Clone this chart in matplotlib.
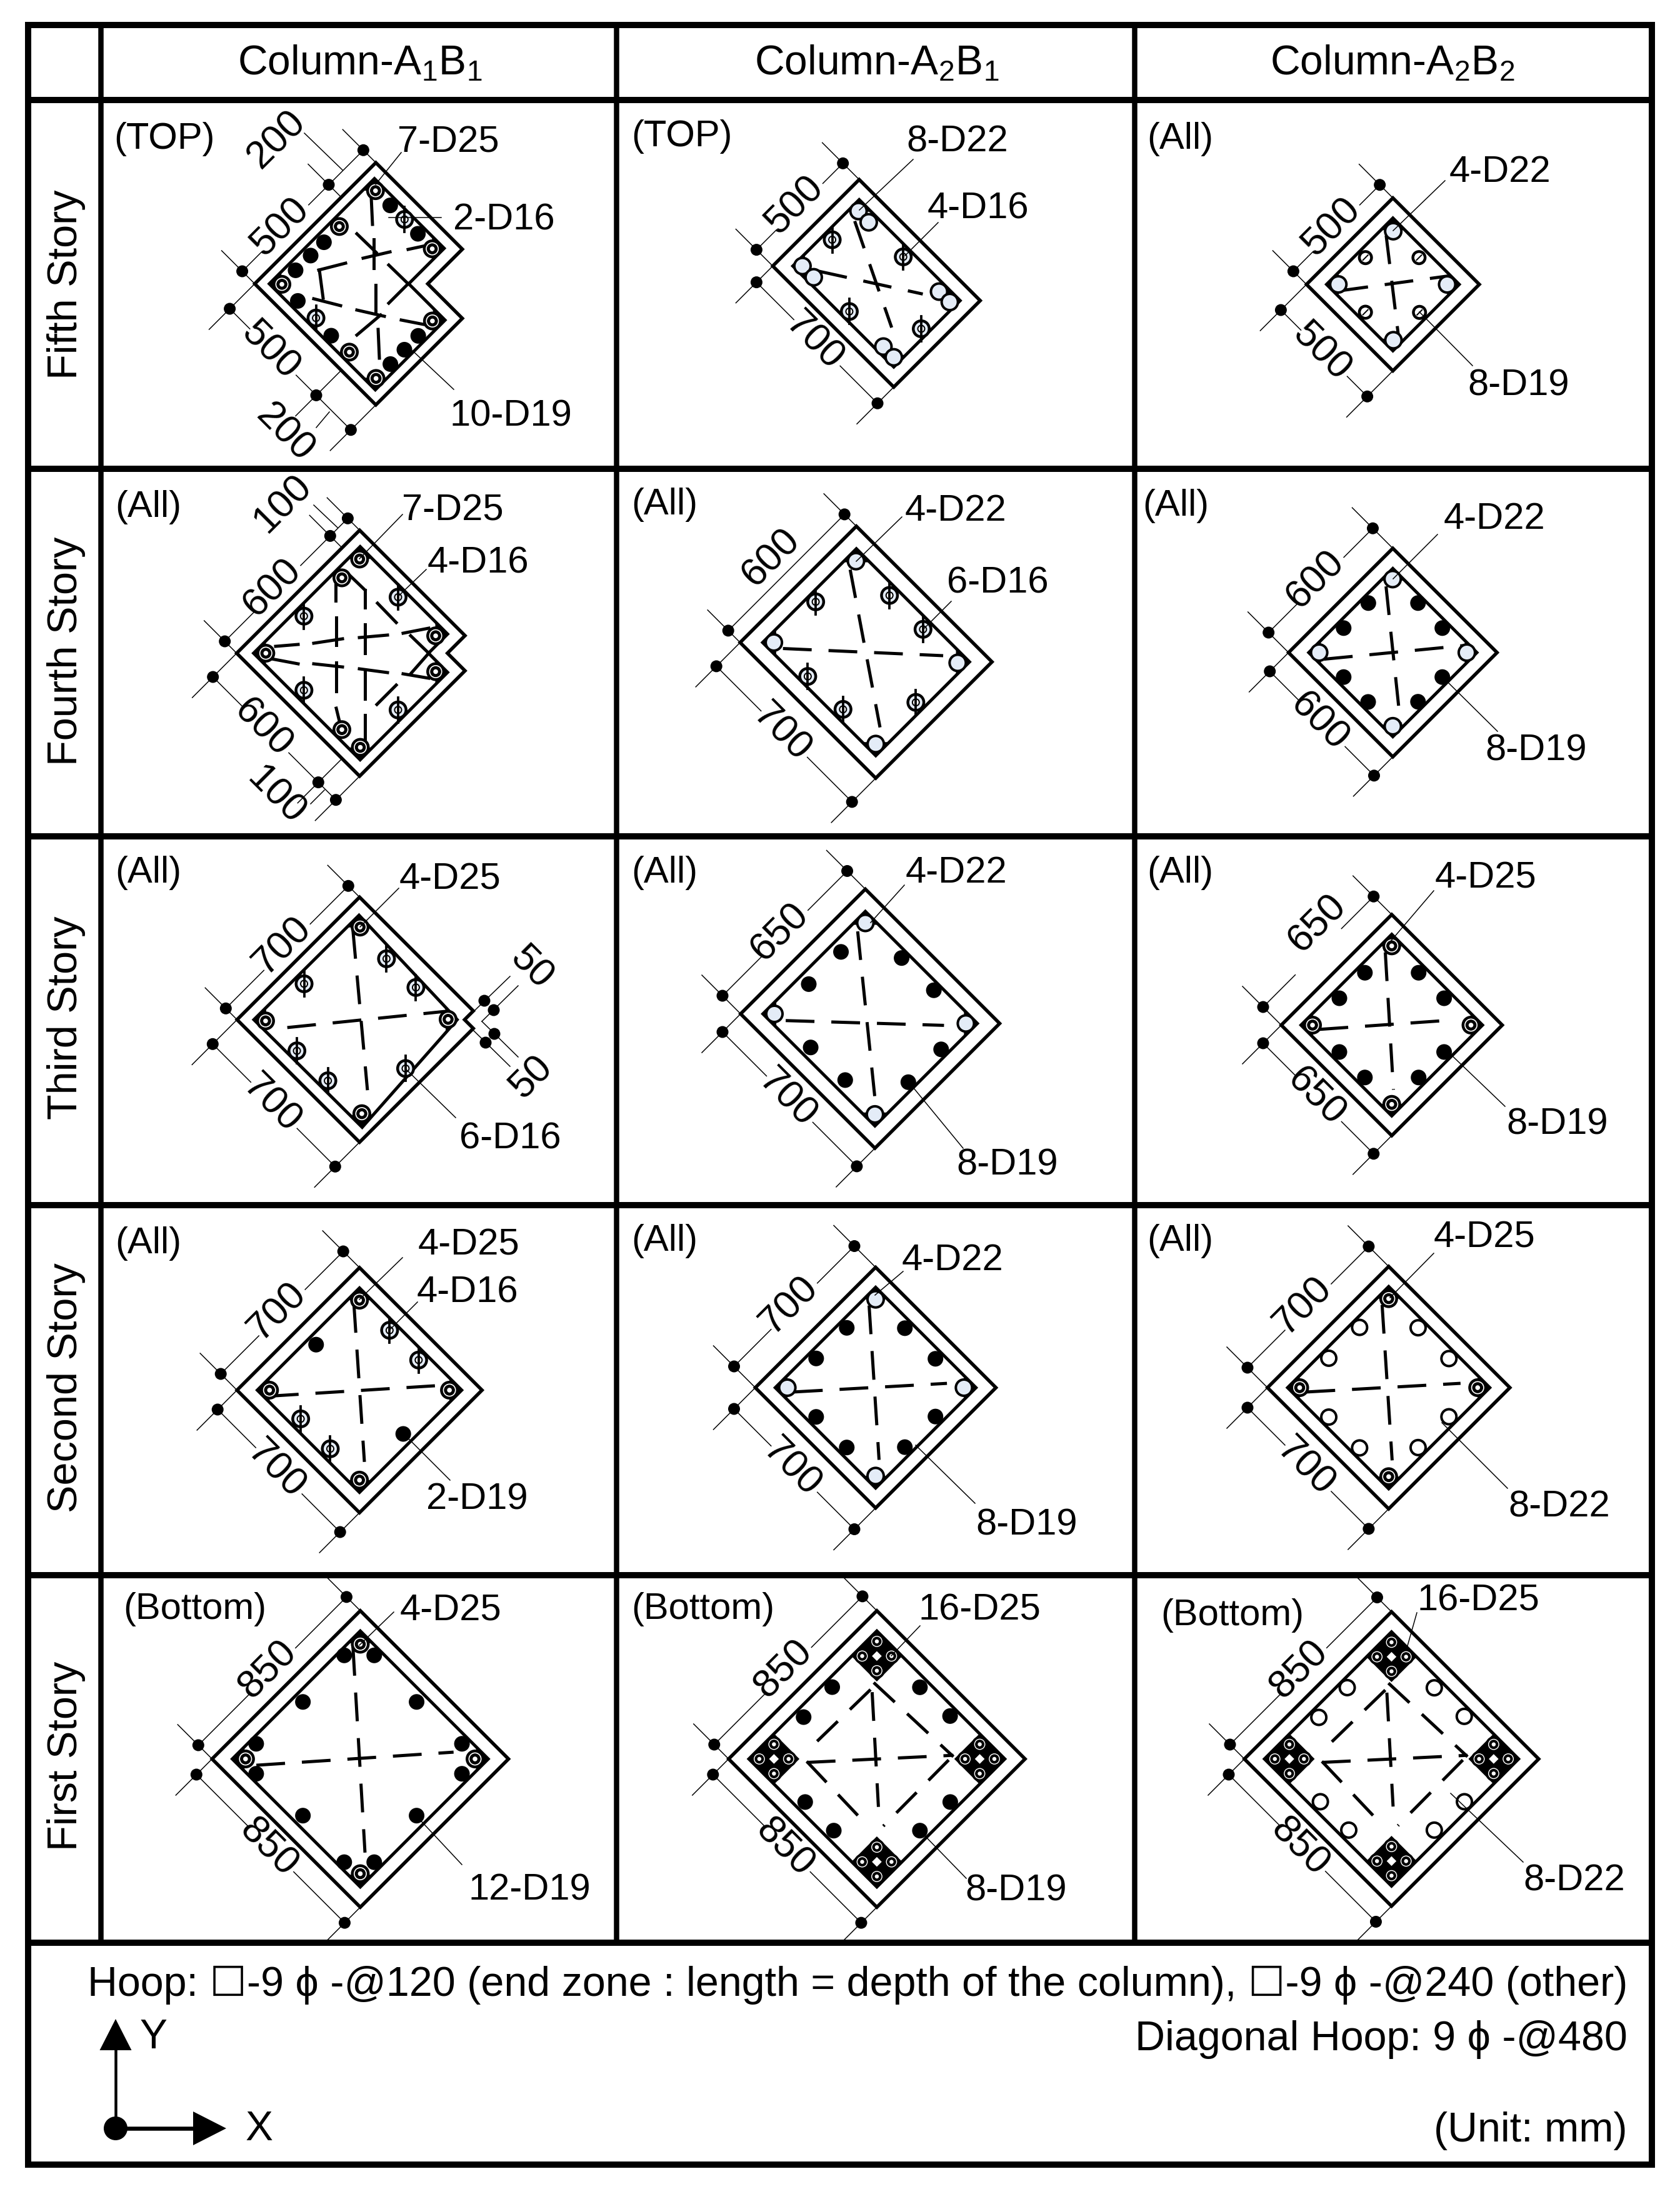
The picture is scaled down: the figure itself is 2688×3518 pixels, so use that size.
import matplotlib
matplotlib.use("Agg")
import matplotlib.pyplot as plt
from matplotlib.patches import Circle, Polygon

plt.rcParams["font.family"] = ["Liberation Sans", "DejaVu Sans"]
plt.rcParams["mathtext.fontset"] = "custom"
plt.rcParams["mathtext.rm"] = "Liberation Sans"
plt.rcParams["lines.scale_dashes"] = False

PT = 0.72  # one picture pixel in points at dpi 100
LIGHT = "#e4ecf7"
LABEL_SIZE = 43
DIM_SIZE = 45
DROP = 7  # va="center" sits a little high for these labels

# table frame
FRAME_X = [44.6, 2642.6]
FRAME_Y = [40, 3463]
COLUMN_LINES = [161.4, 986, 1815]
ROW_LINES = [160, 750, 1338, 1928, 2520, 3108]

COLUMN_LABELS = ["Column-A$_{\\mathrm{1}}$B$_{\\mathrm{1}}$",
                 "Column-A$_{\\mathrm{2}}$B$_{\\mathrm{1}}$",
                 "Column-A$_{\\mathrm{2}}$B$_{\\mathrm{2}}$"]
COLUMN_LABEL_X = [573, 1400, 2225]
STORY_LABELS = ["Fifth Story", "Fourth Story", "Third Story", "Second Story", "First Story"]
STORY_LABEL_Y = [455, 1042, 1628, 2220, 2809]

ZONE_TEXT = [["(TOP)", "(TOP)", "(All)"],
             ["(All)", "(All)", "(All)"],
             ["(All)", "(All)", "(All)"],
             ["(All)", "(All)", "(All)"],
             ["(Bottom)", "(Bottom)", "(Bottom)"]]
ZONE_XY = [[(182, 215), (1010, 211), (1835, 215)],
           [(184, 804), (1010, 800), (1828, 802)],
           [(184, 1389), (1010, 1389), (1835, 1389)],
           [(184, 1982), (1010, 1978), (1835, 1978)],
           [(197, 2567), (1010, 2567), (1857, 2578)]]

# section sizes in mm, as dimensioned
SIDES = [[(700, 700), (500, 700), (500, 500)],
         [(700, 700), (600, 700), (600, 600)],
         [(700, 700), (650, 700), (650, 650)],
         [(700, 700), (700, 700), (700, 700)],
         [(850, 850), (850, 850), (850, 850)]]
# the drawings are not all at one scale: pixels per mm along each axis
SCALES = [[0.2768, 0.2766, 0.2765],
          [0.281, 0.31, 0.278],
          [0.28, 0.307, 0.272],
          [0.28, 0.275, 0.277],
          [0.279, 0.279, 0.277]]
LEFT_CORNERS = [[(407.6, 454), (1236.4, 425.6), (2090.4, 455)],
                [(378.7, 1045), (1184.2, 1027.9), (2061.7, 1044)],
                [(379.3, 1631.3), (1185, 1622), (2050, 1640)],
                [(379.2, 2224), (1208.5, 2220), (2028, 2220)],
                [(339.3, 2814), (1165.8, 2814), (1991, 2814)]]

# outlines and hoops that are not plain rectangles, in mm
OUTLINE_5F = [(0, 0), (700, 0), (700, 500), (500, 500), (500, 700), (0, 700)]
HOOP_5F = [(42, 42), (650, 42), (650, 445), (445, 445), (445, 655), (42, 655)]
OUTLINE_4F = [(0, 0), (700, 0), (700, 600), (600, 600), (600, 700), (0, 700)]
HOOP_4F = [(48, 48), (655, 48), (655, 546), (546, 546), (546, 655), (48, 655)]
OUTLINE_3F = [(0, 0), (700, 0), (700, 650), (650, 650), (650, 700), (0, 700)]
HOOP_3F = [(48, 48), (647, 50), (629, 629), (50, 665)]
OUTLINES = {(0, 0): OUTLINE_5F, (1, 0): OUTLINE_4F, (2, 0): OUTLINE_3F}
HOOPS = {(0, 0): HOOP_5F, (1, 0): HOOP_4F, (2, 0): HOOP_3F}
COVER = 58

# bars by kind: T target (D25), P ring with stem (D16), F solid (D19),
# O pale ring (D22), R white ring (D22), S small ring (D19)
BARS_5F_A1 = {"T": [(618, 80), (614, 412), (77, 80), (406, 621), (77, 624), (410, 79), (76, 471)],
              "P": [(619, 247), (78, 276)],
              "F": [(618, 165), (616, 327), (320, 80), (243, 80), (157, 79), (75, 174),
                    (71, 371), (322, 623), (242, 623), (160, 624)]}
BARS_5F_A2 = {"O": [(407, 89), (404, 151), (86, 86), (86, 151), (407, 555), (408, 616), (87, 553), (86, 614)],
              "P": [(248, 96), (404, 351), (90, 353), (248, 611)]}
BARS_5F_A3 = {"O": [(92, 92), (405, 97), (407, 407), (90, 413)],
              "S": [(248, 93), (403, 248), (90, 251), (246, 408)]}
BARS_4F_A1 = {"T": [(618, 82), (514, 85), (83, 83), (616, 517), (514, 619), (82, 517), (84, 620)],
              "P": [(619, 300), (297, 86), (86, 297), (298, 621)]}
BARS_4F_A2 = {"O": [(87, 87), (509, 89), (509, 614), (88, 612)],
              "P": [(300, 90), (507, 264), (506, 438), (87, 262), (93, 438), (299, 608)]}
BARS_4F_A3 = {"O": [(88, 88), (511, 88), (513, 513), (88, 512)],
              "F": [(372, 87), (515, 230), (229, 88), (513, 372), (88, 229), (372, 513), (87, 371), (231, 514)]}
BARS_3F_A1 = {"T": [(78, 85), (616, 87), (604, 602), (88, 625)],
              "P": [(601, 253), (603, 419), (294, 89), (82, 260), (85, 434), (342, 621)]}
BARS_3F_A2 = {"O": [(88, 88), (562, 88), (562, 612), (88, 612)],
              "F": [(423, 100), (255, 100), (565, 274), (565, 442), (95, 270), (100, 445), (259, 615), (430, 615)]}
BARS_3F_A3 = {"T": [(92, 92), (558, 92), (558, 558), (92, 558)],
              "F": [(400, 92), (250, 92), (558, 250), (558, 400), (92, 250), (92, 400), (250, 558), (400, 558)]}
BARS_2F_A1 = {"T": [(93, 93), (607, 93), (607, 607), (93, 607)],
              "P": [(607, 265), (605, 433), (100, 264), (99, 434)],
              "F": [(356, 96), (350, 600)]}
BARS_2F_A2 = {"O": [(93, 93), (607, 93), (607, 607), (93, 607)],
              "F": [(440, 92), (262, 92), (608, 262), (608, 440), (92, 262), (92, 440), (262, 608), (440, 608)]}
BARS_2F_A3 = {"T": [(93, 93), (607, 93), (607, 607), (93, 607)],
              "R": [(440, 92), (262, 92), (608, 262), (608, 440), (92, 262), (92, 440), (262, 608), (440, 608)]}
BARS_1F_A1 = {"T": [(96, 96), (754, 96), (754, 754), (96, 754)],
              "F": [(676, 82), (762, 168), (170, 83), (84, 169), (760, 673), (674, 759), (83, 675), (169, 761),
                    (424, 97), (750, 423), (98, 423), (424, 749)]}
BARS_1F_A2 = {"F": [(503, 91), (754, 343), (335, 95), (758, 512), (96, 343), (512, 759), (96, 507), (343, 754)]}
BARS_1F_A3 = {"R": [(503, 91), (754, 343), (335, 95), (758, 512), (96, 343), (512, 759), (96, 507), (343, 754)]}
BARS = [[BARS_5F_A1, BARS_5F_A2, BARS_5F_A3],
        [BARS_4F_A1, BARS_4F_A2, BARS_4F_A3],
        [BARS_3F_A1, BARS_3F_A2, BARS_3F_A3],
        [BARS_2F_A1, BARS_2F_A2, BARS_2F_A3],
        [BARS_1F_A1, BARS_1F_A2, BARS_1F_A3]]

# corner groups of four D25 bars in the first story
CLUSTER_CENTRES = [(130, 130), (720, 130), (720, 720), (130, 720)]
CLUSTER_SECTIONS = [(4, 1), (4, 2)]

# dashed diagonal hoops, (p0, q0, p1, q1) in mm
TIES_1F_CLUSTER = [(214, 234, 655, 634), (603, 220, 292, 567), (606, 208, 299, 203),
                   (635, 197, 651, 638), (217, 231, 208, 551), (628, 634, 251, 636)]
TIES = [[[], [(118, 148, 353, 515), (367, 107, 166, 522)], [(77, 114, 431, 383), (372, 89, 99, 438)]],
        [[], [(95, 126, 490, 558), (472, 96, 142, 580)], [(83, 121, 528, 487), (471, 90, 114, 531)]],
        [[(121, 166, 622, 574), (587, 75, 171, 574)], [(100, 135, 500, 560), (520, 90, 130, 570)],
         [(100, 125, 520, 490), (520, 92, 140, 520)]],
        [[(77, 111, 578, 553), (580, 88, 159, 569)], [(100, 125, 570, 545), (570, 92, 150, 570)],
         [(100, 125, 570, 545), (570, 92, 150, 570)]],
        [[(109, 145, 712, 673), (725, 83, 170, 707)], TIES_1F_CLUSTER, TIES_1F_CLUSTER]]

# the hoops of the two stepped sections, stroke by stroke, picture pixels
STROKES_5F = [(594, 316, 596, 359), (598, 383, 598, 429), (571, 374, 602, 404), (581, 413, 624, 403),
              (622, 424, 653, 454), (622, 485, 653, 454), (653, 399, 681, 393), (510, 432, 553, 421),
              (511, 432, 517, 477), (502, 478, 545, 489), (601, 456, 601, 502), (571, 496, 615, 506),
              (571, 536, 609, 504), (605, 527, 607, 573), (642, 512, 683, 520)]
STROKES_4F = [(537, 928, 537, 961), (538, 988, 538, 1032), (538, 1060, 538, 1106), (538, 1133, 546, 1166),
              (556, 917, 584, 944), (584, 944, 584, 972), (584, 999, 584, 1045), (584, 1072, 584, 1118),
              (584, 1144, 584, 1189), (441, 1034, 477, 1031), (502, 1029, 548, 1022), (575, 1020, 620, 1016),
              (645, 1013, 686, 1005), (429, 1053, 477, 1062), (502, 1062, 548, 1067), (575, 1070, 620, 1076),
              (645, 1078, 686, 1085), (604, 965, 634, 996), (603, 1127, 634, 1096), (657, 1017, 686, 1045),
              (686, 1045, 657, 1078)]
STROKES = {(0, 0): STROKES_5F, (1, 0): STROKES_4F}

# dimension chains along the upper left and lower left faces
UPPER_DIMS = [[[500, 200], [500], [500]],
              [[600, 100], [600], [600]],
              [[700], [650], [650]],
              [[700], [700], [700]],
              [[850], [850], [850]]]
LOWER_DIMS = [[[500, 200], [700], [500]],
              [[600, 100], [700], [600]],
              [[700], [700], [650]],
              [[700], [700], [700]],
              [[850], [850], [850]]]
UPPER_OFFSET = [[20, 26, 21], [19, 19, 32], [18, 29, 29], [26, 34, 32], [22, 23, 23]]
LOWER_OFFSET = [[40, 26, 41], [38, 38, 30], [39, 29, 29], [31, 34, 32], [25, 25, 25]]

# short dimensions written beside their chain: text, angle, x, y, leader
SMALL_DIMS = [("200", 45, 443, 223, (548, 272, 487, 213)),
              ("200", -45, 456, 693, (527, 659, 506, 684)),
              ("100", 45, 452, 806, (540, 844, 502, 808)),
              ("100", -45, 441, 1273, (519, 1264, 497, 1286))]
COVER_DIM_TEXT = [("50", -45, 850, 1549), ("50", 45, 850, 1723)]
COVER_DOTS = [(775, 1601), (790, 1616), (791, 1654), (777, 1668)]
COVER_LINES = [(758, 1618, 816, 1562), (771, 1634, 829, 1577), (771, 1634, 829, 1691), (758, 1649, 816, 1706)]

# bar call-outs: text, left x, centre y, leader
REBAR_TEXT = [
    [[("7-D25", 636, 221, (642, 244, 601, 295)), ("2-D16", 725, 345, (706, 348, 622, 348)),
      ("10-D19", 720, 659, (726, 623, 660, 561))],
     [("8-D22", 1450, 220, (1461, 255, 1375, 336)), ("4-D16", 1484, 327, (1501, 356, 1448, 409))],
     [("4-D22", 2319, 268, (2312, 289, 2229, 369)), ("8-D19", 2348, 610, (2356, 585, 2271, 499))]],
    [[("7-D25", 643, 810, (644, 823, 575, 894)), ("4-D16", 684, 894, (682, 911, 636, 955))],
     [("4-D22", 1448, 810, (1443, 827, 1370, 898)), ("6-D16", 1515, 926, (1522, 962, 1477, 1007))],
     [("4-D22", 2310, 823, (2300, 855, 2229, 926)), ("8-D19", 2376, 1194, (2396, 1170, 2308, 1083))]],
    [[("4-D25", 639, 1400, (638, 1421, 576, 1483)), ("6-D16", 735, 1815, (729, 1788, 649, 1710))],
     [("4-D22", 1449, 1389, (1447, 1416, 1393, 1476)), ("8-D19", 1530, 1857, (1541, 1837, 1458, 1736))],
     [("4-D25", 2296, 1398, (2294, 1425, 2224, 1507)), ("8-D19", 2410, 1792, (2408, 1770, 2314, 1680))]],
    [[("4-D25", 669, 1985, (644, 2012, 575, 2079)), ("4-D16", 667, 2061, (668, 2083, 623, 2128)),
      ("2-D19", 682, 2392, (720, 2368, 646, 2294))],
     [("4-D22", 1443, 2009, (1445, 2034, 1400, 2072)), ("8-D19", 1561, 2433, (1560, 2405, 1465, 2312))],
     [("4-D25", 2294, 1973, (2294, 2005, 2224, 2076)), ("8-D22", 2413, 2404, (2412, 2381, 2307, 2276))]],
    [[("4-D25", 640, 2570, (630, 2579, 575, 2632)), ("12-D19", 750, 3017, (739, 2983, 666, 2905))],
     [("16-D25", 1470, 2569, (1472, 2601, 1426, 2649)), ("8-D19", 1544, 3018, (1546, 3005, 1472, 2929))],
     [("16-D25", 2267, 2554, (2267, 2580, 2250, 2640)), ("8-D22", 2437, 3002, (2437, 2979, 2321, 2869))]]]

FOOTER_LINES = [("Hoop: \u2610-9 \u03d5 -@120 (end zone : length = depth of the column), \u2610-9 \u03d5 -@240 (other)", 3165),
                ("Diagonal Hoop: 9 \u03d5 -@480", 3252),
                ("(Unit: mm)", 3398)]


def to_px(corner, k, p, q):
    return corner[0] + k * (p + q), corner[1] + k * (q - p)


def segment(ax, x0, y0, x1, y1, width, **kw):
    ax.plot([x0, x1], [y0, y1], color="black", lw=width * PT, **kw)


def closed(ax, pts, width, zorder=2):
    ax.add_patch(Polygon(pts, closed=True, fill=False, edgecolor="black", lw=width * PT,
                         joinstyle="miter", zorder=zorder))


def disc(ax, x, y, r, color, zorder=6):
    ax.add_patch(Circle((x, y), r, facecolor=color, edgecolor="none", zorder=zorder))


def draw_bar(ax, kind, x, y, scale=1.0):
    if kind == "F":
        disc(ax, x, y, 12.5, "black")
    elif kind == "T":
        disc(ax, x, y, 15 * scale, "black")
        disc(ax, x, y, 10.5 * scale, "white")
        disc(ax, x, y, 8.8 * scale, "black")
        disc(ax, x, y, 3.8 * scale, "white")
    elif kind == "P":
        disc(ax, x, y, 15, "black")
        disc(ax, x, y, 10.5, LIGHT)
        ax.add_patch(Circle((x, y), 5.5, facecolor="white", edgecolor="black", lw=2 * PT, zorder=6))
        segment(ax, x, y - 20, x, y + 20, 3.8, zorder=6)
    elif kind == "O":
        disc(ax, x, y, 15, "black")
        disc(ax, x, y, 11, LIGHT)
    elif kind == "R":
        disc(ax, x, y, 14, "black")
        disc(ax, x, y, 10, "white")
    elif kind == "S":
        disc(ax, x, y, 12, "black")
        disc(ax, x, y, 7.5, "white")
        segment(ax, x - 4, y + 4, x + 4, y - 4, 2, zorder=6)


def corner_wedges(ax, corner, k, hoop, reach=70):
    # black fill in the convex hoop corners, behind the corner bars
    n = len(hoop)
    for i, (p, q) in enumerate(hoop):
        pa, qa = hoop[i - 1]
        pb, qb = hoop[(i + 1) % n]
        ax0, ay0, bx0, by0 = p - pa, q - qa, pb - p, qb - q
        if ax0 * by0 - ay0 * bx0 <= 0:
            continue
        la = (ax0 ** 2 + ay0 ** 2) ** 0.5
        lb = (bx0 ** 2 + by0 ** 2) ** 0.5
        tri = [to_px(corner, k, p, q),
               to_px(corner, k, p - ax0 / la * reach, q - ay0 / la * reach),
               to_px(corner, k, p + bx0 / lb * reach, q + by0 / lb * reach)]
        ax.add_patch(Polygon(tri, closed=True, facecolor="black", edgecolor="none", zorder=3))


def draw_cluster(ax, corner, k, centre):
    cp, cq = centre
    square = [to_px(corner, k, cp + a, cq + b) for a, b in [(-73, -73), (73, -73), (73, 73), (-73, 73)]]
    ax.add_patch(Polygon(square, closed=True, facecolor="black", edgecolor="none", zorder=3))
    hole = [to_px(corner, k, cp + a, cq + b) for a, b in [(-14, -14), (14, -14), (14, 14), (-14, 14)]]
    ax.add_patch(Polygon(hole, closed=True, facecolor="white", edgecolor="none", zorder=4))
    for a, b in [(42, 42), (-42, -42), (42, -42), (-42, 42)]:
        draw_bar(ax, "T", *to_px(corner, k, cp + a, cq + b), scale=0.85)


def draw_chain(ax, corner, k, lengths, offset, upper, gap_break=True, text_shift=(0, 0)):
    # dimension chain along a face: ticks, dots, dimension line and number
    sy = -1 if upper else 1
    along = 0
    ends = [0]
    for length in lengths:
        along += length
        ends.append(along)
    for pos in ends:
        bx, by = corner[0] + k * pos, corner[1] + sy * k * pos
        ox, oy = bx - offset, by + sy * offset
        segment(ax, bx, by, ox - 33, oy + sy * 33, 1.5)
        disc(ax, ox, oy, 9.5, "black", zorder=3)
    for start, stop in zip(ends[:-1], ends[1:]):
        x0 = corner[0] + k * start - offset
        y0 = corner[1] + sy * k * start + sy * offset
        x1 = corner[0] + k * stop - offset
        y1 = corner[1] + sy * k * stop + sy * offset
        mx, my = (x0 + x1) / 2, (y0 + y1) / 2
        if stop - start < 300:
            segment(ax, x0, y0, x1, y1, 1.5)
            continue
        if gap_break:
            segment(ax, x0, y0, mx - 37, my - sy * 37, 1.5)
            segment(ax, mx + 37, my + sy * 37, x1, y1, 1.5)
        else:
            segment(ax, x0, y0, x1, y1, 1.5)
        ax.text(mx + text_shift[0], my + text_shift[1], str(stop - start), fontsize=DIM_SIZE,
                rotation=45 if upper else -45, rotation_mode="anchor", ha="center", va="center")


fig = plt.figure(figsize=(26.88, 35.18), dpi=100)
ax = fig.add_axes([0, 0, 1, 1])
ax.set_xlim(0, 2688)
ax.set_ylim(3518, 0)
ax.axis("off")

# table grid
frame = [(FRAME_X[0], FRAME_Y[0]), (FRAME_X[1], FRAME_Y[0]), (FRAME_X[1], FRAME_Y[1]), (FRAME_X[0], FRAME_Y[1])]
closed(ax, frame, 10, zorder=8)
for x in COLUMN_LINES:
    segment(ax, x, FRAME_Y[0], x, ROW_LINES[-1], 8.5, zorder=8)
for y in ROW_LINES:
    segment(ax, FRAME_X[0], y, FRAME_X[1], y, 10, zorder=8)

for x, label in zip(COLUMN_LABEL_X, COLUMN_LABELS):
    ax.text(x + 3, 102, label, fontsize=47.5, ha="center", va="center")
for y, label in zip(STORY_LABEL_Y, STORY_LABELS):
    ax.text(106, y, label, fontsize=48, rotation=90, ha="center", va="center")

for row in range(5):
    for col in range(3):
        corner = LEFT_CORNERS[row][col]
        k = SCALES[row][col]
        P, Q = SIDES[row][col]
        key = (row, col)
        zx, zy = ZONE_XY[row][col]
        ax.text(zx, zy + DROP, ZONE_TEXT[row][col], fontsize=LABEL_SIZE, ha="left", va="center")

        outline = OUTLINES.get(key, [(0, 0), (P, 0), (P, Q), (0, Q)])
        hoop = HOOPS.get(key, [(COVER, COVER), (P - COVER, COVER), (P - COVER, Q - COVER), (COVER, Q - COVER)])
        closed(ax, [to_px(corner, k, p, q) for p, q in outline], 5.5)
        closed(ax, [to_px(corner, k, p, q) for p, q in hoop], 5)

        for p0, q0, p1, q1 in TIES[row][col]:
            x0, y0 = to_px(corner, k, p0, q0)
            x1, y1 = to_px(corner, k, p1, q1)
            ax.plot([x0, x1], [y0, y1], color="black", lw=5 * PT, zorder=3,
                    linestyle=(0, (46 * PT, 27 * PT)))
        for x0, y0, x1, y1 in STROKES.get(key, []):
            segment(ax, x0, y0, x1, y1, 5, zorder=3)

        if key in CLUSTER_SECTIONS:
            for centre in CLUSTER_CENTRES:
                draw_cluster(ax, corner, k, centre)
        else:
            corner_wedges(ax, corner, k, hoop)
        for kind, points in BARS[row][col].items():
            for p, q in points:
                draw_bar(ax, kind, *to_px(corner, k, p, q))

        # two numbers sit clear of the line instead of breaking it at the middle
        if key == (1, 1):
            draw_chain(ax, corner, k, UPPER_DIMS[row][col], UPPER_OFFSET[row][col], True,
                       gap_break=False, text_shift=(-24, -24))
        elif key == (2, 2):
            draw_chain(ax, corner, k, UPPER_DIMS[row][col], UPPER_OFFSET[row][col], True, text_shift=(-2, -46))
        else:
            draw_chain(ax, corner, k, UPPER_DIMS[row][col], UPPER_OFFSET[row][col], True, text_shift=(-8, -2))
        draw_chain(ax, corner, k, LOWER_DIMS[row][col], LOWER_OFFSET[row][col], False, text_shift=(-4, -2))

        for text, x, y, leader in REBAR_TEXT[row][col]:
            ax.text(x, y + DROP, text, fontsize=LABEL_SIZE, ha="left", va="center")
            segment(ax, leader[0], leader[1], leader[2], leader[3], 1.5, zorder=7)

for text, angle, x, y, leader in SMALL_DIMS:
    ax.text(x, y, text, fontsize=DIM_SIZE, rotation=angle, rotation_mode="anchor", ha="center", va="center")
    segment(ax, leader[0], leader[1], leader[2], leader[3], 1.5)
for text, angle, x, y in COVER_DIM_TEXT:
    ax.text(x, y, text, fontsize=DIM_SIZE, rotation=angle, rotation_mode="anchor", ha="center", va="center")
for x0, y0, x1, y1 in COVER_LINES:
    segment(ax, x0, y0, x1, y1, 1.5)
for x, y in COVER_DOTS:
    disc(ax, x, y, 9.5, "black", zorder=3)

# footer notes and axes key
for text, y in FOOTER_LINES:
    ax.text(2604, y + 11, text, fontsize=47.8, ha="right", va="center")
disc(ax, 185, 3405, 19, "black")
segment(ax, 185, 3405, 185, 3275, 4.5)
segment(ax, 185, 3405, 315, 3405, 6.5)
ax.add_patch(Polygon([(185, 3230), (159.5, 3280), (210.5, 3280)], closed=True, facecolor="black", edgecolor="none"))
ax.add_patch(Polygon([(362, 3405), (309, 3378), (309, 3432)], closed=True, facecolor="black", edgecolor="none"))
ax.text(246, 3260, "Y", fontsize=47.5, ha="center", va="center")
ax.text(415, 3407, "X", fontsize=47.5, ha="center", va="center")

fig.savefig("out.png", dpi=100)
